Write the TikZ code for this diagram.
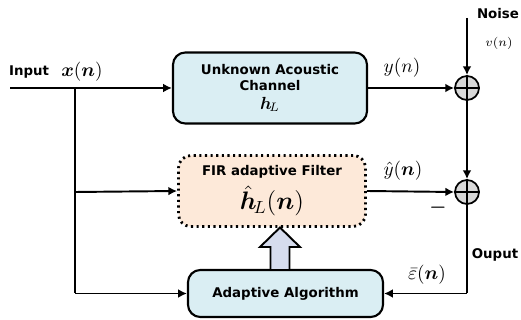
\documentclass[tikz,border=0pt]{standalone}
\usepackage{fontspec}
\setsansfont{DejaVu Sans}
\usepackage{amsmath}
\usepackage{amssymb}
\usetikzlibrary{arrows.meta,positioning}
\definecolor{chanfill}{HTML}{DAEEF3}
\definecolor{filtfill}{HTML}{FDE9D9}
\definecolor{sumfill}{HTML}{D9D9D9}
\definecolor{arrfill}{HTML}{D6DCEE}
\tikzset{>={Latex[length=5pt,width=5pt]}}
\def\ux{0.02cm}
\tikzset{
     blk/.style={draw, line width=1.2pt, rounded corners=7pt, fill=#1, align=center,
        font=\sffamily\bfseries\fontsize{7.6}{9.5}\selectfont, inner sep=0pt},
     chanblk/.style={blk=chanfill, minimum width=194*\ux, minimum height=71*\ux},
     filtblk/.style={blk=filtfill, dotted, line width=1.6pt, minimum width=187*\ux, minimum height=71*\ux},
     algblk/.style={blk=chanfill, minimum width=195*\ux, minimum height=47*\ux},
     sumnode/.style={draw, circle, line width=1pt, fill=sumfill, minimum size=24*\ux, inner sep=0pt},
     lbl/.style={font=\sffamily\bfseries\fontsize{7.6}{9}\selectfont, inner sep=0pt},
     sig/.style={inner sep=0pt, font=\fontsize{11}{13}\selectfont},
     wire/.style={line width=1.1pt},
     bigarr/.style={draw, line width=1.1pt, fill=arrfill},
}

\begin{document}
\begin{tikzpicture}[x=\ux, y=-\ux]
		\useasboundingbox (0,0) rectangle (521,320);

		%% blocks
		\node[chanblk] (chan) at (270,88) {Unknown Acoustic\\Channel\\[1pt]\normalsize$\boldsymbol{h}_{\!L}$};
		\node[filtblk] (filt) at (272,191) {FIR adaptive Filter\\[3pt]\Large$\hat{\boldsymbol{h}}_{\!L}(\boldsymbol{n})$};
		\node[algblk] (alg) at (285.5,293.5) {Adaptive Algorithm};
		\node[sumnode] (sumy) at (467,88) {};
		\node[sumnode] (sume) at (467,192) {};
		\draw[line width=0.6pt] (sumy.north) -- (sumy.south) (sumy.west) -- (sumy.east);
		\draw[line width=0.6pt] (sume.north) -- (sume.south) (sume.west) -- (sume.east);

		%% points on the wires
		\coordinate (in) at (10,88);
		\coordinate (split) at (75,88);
		\coordinate (splitf) at (75,192);
		\coordinate (splita) at (75,293.5);
		\coordinate (noise) at (467,18);
		\coordinate (corner) at (467,293.5);

		%% wires
		\draw[wire,->] (in) -- (chan.west);
		\draw[wire] (split) -- (splita);
		\draw[wire,->] (splitf) -- (filt.west);
		\draw[wire,->] (splita) -- (alg.west);
		\draw[wire,->] (chan.east) -- (sumy.west);
		\draw[wire,->] (noise) -- (sumy.north);
		\draw[wire,->] (sumy.south) -- (sume.north);
		\draw[wire,->] (filt.east) -- (sume.west);
		\draw[wire] (sume.south) -- (corner);
		\draw[wire,->] (corner) -- (alg.east);

		%% update arrow
		\draw[bigarr] (270.5,270) -- (270.5,247) -- (260,247) -- (280,227.5)
			-- (300,247) -- (289.5,247) -- (289.5,270) -- cycle;

		%% labels
		\node[lbl] (lin) at (29,72) {Input};
		\node[sig] (lx) at (82,72) {$\boldsymbol{x}(\boldsymbol{n})$};
		\node[sig] (ly) at (402,68) {$y(n)$};
		\node[lbl] (lnoise) at (498,14) {Noise};
		\node[sig] (lv) at (499,43) {\scriptsize$v(n)$};
		\node[sig] (lyh) at (403,171) {$\hat{y}(\boldsymbol{n})$};
		\node[sig] (lminus) at (438,208) {$\boldsymbol{-}$};
		\node[lbl] (lout) at (495,255) {Ouput};
		\node[sig] (leps) at (427,275) {$\bar{\varepsilon}(\boldsymbol{n})$};
\end{tikzpicture}
\end{document}
